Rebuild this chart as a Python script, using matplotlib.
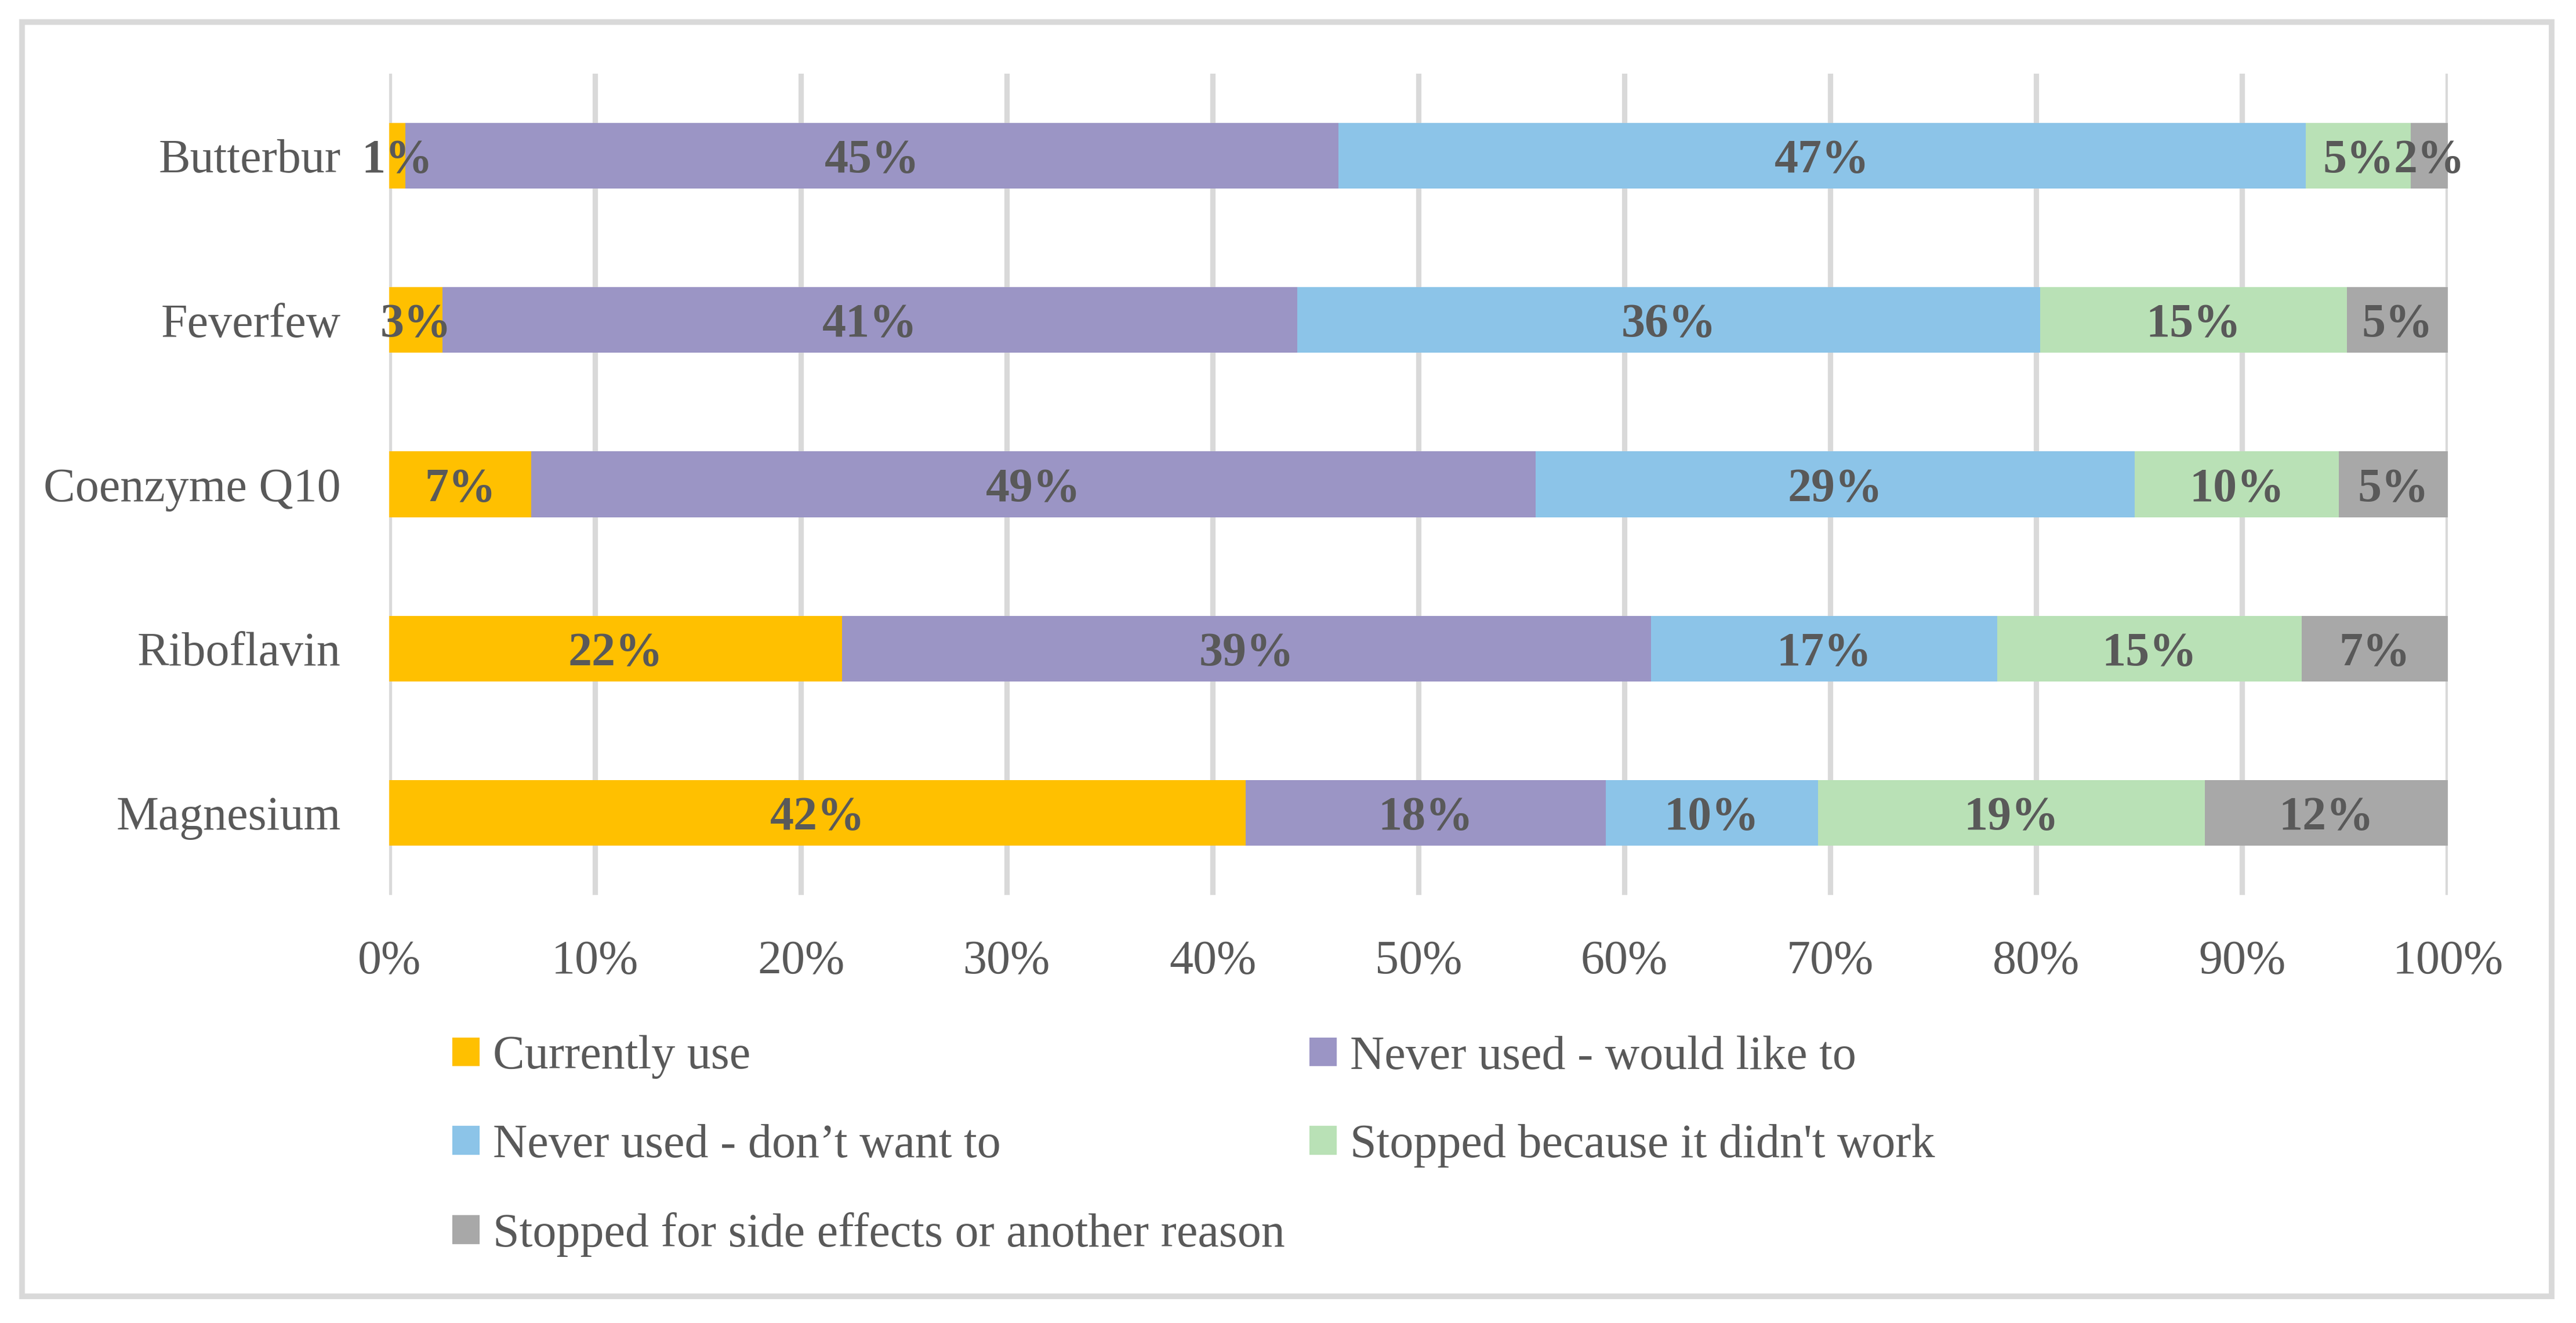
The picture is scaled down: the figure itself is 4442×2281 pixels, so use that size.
import matplotlib
matplotlib.use("Agg")
import matplotlib.pyplot as plt
from matplotlib.patches import Rectangle, Patch
import numpy as np

categories = ["Butterbur", "Feverfew", "Coenzyme Q10", "Riboflavin", "Magnesium"]
series_names = ["Currently use", "Never used - would like to", "Never used - don\u2019t want to",
                "Stopped because it didn't work", "Stopped for side effects or another reason"]
currently_use = [0.8, 2.6, 6.9, 22.0, 41.6]
never_would_like = [45.3, 41.5, 48.8, 39.3, 17.5]
never_dont_want = [47.0, 36.1, 29.1, 16.8, 10.3]
stopped_didnt_work = [5.1, 14.9, 9.9, 14.8, 18.8]
stopped_side_effects = [1.8, 4.9, 5.3, 7.1, 11.8]
label_texts = [
    ["1%", "3%", "7%", "22%", "42%"],
    ["45%", "41%", "49%", "39%", "18%"],
    ["47%", "36%", "29%", "17%", "10%"],
    ["5%", "15%", "10%", "15%", "19%"],
    ["2%", "5%", "5%", "7%", "12%"],
]
xticks = [0, 10, 20, 30, 40, 50, 60, 70, 80, 90, 100]
xtick_labels = [f"{t}%" for t in xticks]

colors = ["#FFC000", "#9B95C5", "#8CC4E8", "#B9E1B6", "#A8A8A8"]
text_color = "#595959"
grid_color = "#D9D9D9"
FONT = ["Liberation Serif", "DejaVu Serif"]
FS = 29.5

plt.rcParams['font.family'] = FONT

W, H, DPI = 4442, 2281, 200
fig = plt.figure(figsize=(W / DPI, H / DPI), dpi=DPI)
ax = fig.add_axes([671 / W, 1 - 1543 / H, (4221 - 671) / W, (1543 - 127) / H])

series = [currently_use, never_would_like, never_dont_want, stopped_didnt_work, stopped_side_effects]
y = np.arange(len(categories))[::-1]
left = np.zeros(len(categories))
handles = []
for s, vals in enumerate(series):
    vals = np.array(vals)
    ax.barh(y, vals, left=left, height=0.4, color=colors[s], zorder=3, label=series_names[s])
    handles.append(Patch(facecolor=colors[s], edgecolor='none'))
    for i in range(len(categories)):
        ax.text(left[i] + vals[i] / 2, y[i], label_texts[s][i], ha='center', va='center_baseline',
                fontsize=FS, fontweight='bold', color=text_color, zorder=4)
    left = left + vals

ax.set_xlim(0, 100)
ax.set_ylim(-0.5, len(categories) - 0.5)
ax.set_xticks(xticks)
ax.set_xticklabels(xtick_labels)
ax.set_yticks(y)
ax.set_yticklabels(categories)
ax.tick_params(axis='both', length=0, labelsize=FS, labelcolor=text_color)
ax.tick_params(axis='x', pad=28)
ax.tick_params(axis='y', pad=30)
for sp in ax.spines.values():
    sp.set_visible(False)
ax.xaxis.grid(True, color=grid_color, linewidth=3.3, zorder=0)
ax.set_axisbelow(True)

# outer frame
fig.add_artist(Rectangle((38 / W, 1 - 2235 / H), (4400 - 38) / W, (2235 - 38) / H,
                         transform=fig.transFigure, fill=False, edgecolor=grid_color, linewidth=3.5))

# legend in two columns (row-wise order)
col1 = [0, 2, 4]
col2 = [1, 3]
common = dict(loc='upper left', frameon=False, fontsize=FS, labelcolor=text_color,
              handlelength=0.57, handleheight=0.55, handletextpad=0.28, labelspacing=0.94,
              borderpad=0, borderaxespad=0)
leg1 = fig.legend([handles[i] for i in col1], [series_names[i] for i in col1],
                  bbox_to_anchor=(780 / W, 1 - 1785 / H), **common)
leg2 = fig.legend([handles[i] for i in col2], [series_names[i] for i in col2],
                  bbox_to_anchor=(2258 / W, 1 - 1785 / H), **common)

fig.savefig("out.png", dpi=DPI, facecolor="white")
